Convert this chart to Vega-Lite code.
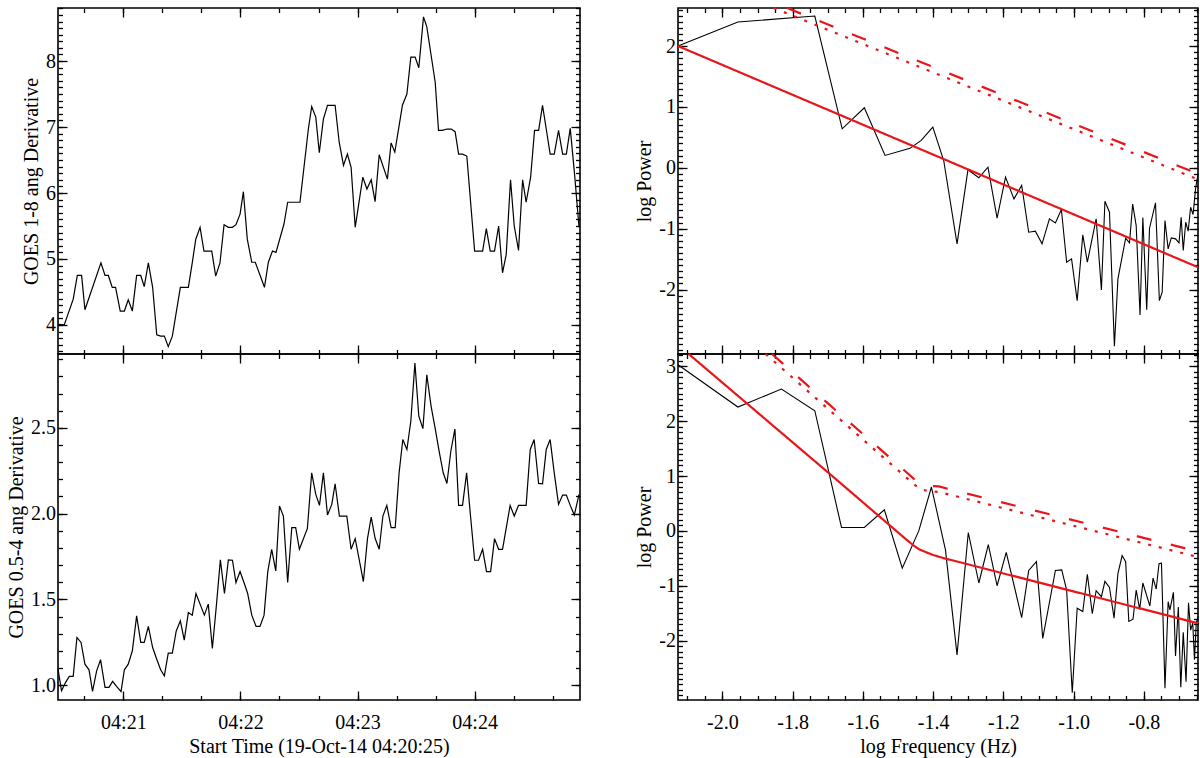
{
  "$schema": "https://vega.github.io/schema/vega-lite/v6.json",
  "background": "white",
  "padding": {"left": 5, "top": 2, "right": 3, "bottom": 2},
  "datasets": {
    "g18": [
      {"t": 26.5, "v": 4.01}, {"t": 29.7, "v": 4.0}, {"t": 34.3, "v": 4.39}, {"t": 36.4, "v": 4.75}, {"t": 38.6, "v": 4.75},
      {"t": 40.3, "v": 4.23}, {"t": 48.5, "v": 4.94}, {"t": 50.6, "v": 4.75}, {"t": 52.3, "v": 4.75}, {"t": 54.3, "v": 4.57},
      {"t": 56.0, "v": 4.57}, {"t": 58.4, "v": 4.21}, {"t": 60.5, "v": 4.21}, {"t": 62.5, "v": 4.38}, {"t": 64.6, "v": 4.21},
      {"t": 66.8, "v": 4.75}, {"t": 68.9, "v": 4.75}, {"t": 70.7, "v": 4.58}, {"t": 72.8, "v": 4.94}, {"t": 75.0, "v": 4.57},
      {"t": 77.1, "v": 3.85}, {"t": 79.1, "v": 3.83}, {"t": 81.0, "v": 3.83}, {"t": 83.0, "v": 3.67}, {"t": 85.1, "v": 3.83},
      {"t": 89.2, "v": 4.57}, {"t": 93.3, "v": 4.57}, {"t": 95.3, "v": 4.94}, {"t": 97.1, "v": 5.3}, {"t": 99.3, "v": 5.48},
      {"t": 101.3, "v": 5.12}, {"t": 105.3, "v": 5.12}, {"t": 107.3, "v": 4.74}, {"t": 109.5, "v": 4.94}, {"t": 111.6, "v": 5.52},
      {"t": 113.8, "v": 5.48}, {"t": 115.9, "v": 5.48}, {"t": 117.7, "v": 5.52}, {"t": 119.8, "v": 5.68}, {"t": 121.5, "v": 6.02},
      {"t": 123.5, "v": 5.3}, {"t": 125.8, "v": 4.95}, {"t": 127.6, "v": 4.95}, {"t": 132.3, "v": 4.57}, {"t": 134.3, "v": 4.95},
      {"t": 136.4, "v": 5.12}, {"t": 138.2, "v": 5.1}, {"t": 142.3, "v": 5.53}, {"t": 144.2, "v": 5.86}, {"t": 150.5, "v": 5.86},
      {"t": 154.8, "v": 6.97}, {"t": 156.5, "v": 7.31}, {"t": 158.6, "v": 7.15}, {"t": 160.4, "v": 6.61}, {"t": 162.5, "v": 7.12},
      {"t": 164.6, "v": 7.33}, {"t": 168.5, "v": 7.33}, {"t": 170.6, "v": 6.77}, {"t": 172.8, "v": 6.42}, {"t": 174.8, "v": 6.59},
      {"t": 176.7, "v": 6.39}, {"t": 178.8, "v": 5.48}, {"t": 182.7, "v": 6.24}, {"t": 184.8, "v": 6.06}, {"t": 187.0, "v": 6.2},
      {"t": 189.0, "v": 5.87}, {"t": 191.1, "v": 6.58}, {"t": 195.3, "v": 6.21}, {"t": 197.2, "v": 6.76}, {"t": 199.1, "v": 6.62},
      {"t": 203.0, "v": 7.33}, {"t": 205.3, "v": 7.5}, {"t": 207.3, "v": 8.06}, {"t": 209.5, "v": 8.06}, {"t": 211.4, "v": 7.9},
      {"t": 213.8, "v": 8.67}, {"t": 215.5, "v": 8.52}, {"t": 219.8, "v": 7.68}, {"t": 221.5, "v": 6.95}, {"t": 223.5, "v": 6.95},
      {"t": 225.8, "v": 6.97}, {"t": 228.0, "v": 6.97}, {"t": 230.0, "v": 6.93}, {"t": 231.8, "v": 6.59}, {"t": 233.8, "v": 6.59},
      {"t": 236.0, "v": 6.56}, {"t": 240.0, "v": 5.12}, {"t": 244.1, "v": 5.12}, {"t": 246.0, "v": 5.46}, {"t": 248.0, "v": 5.12},
      {"t": 250.2, "v": 5.12}, {"t": 252.3, "v": 5.5}, {"t": 254.3, "v": 4.79}, {"t": 256.2, "v": 5.07}, {"t": 258.4, "v": 6.2},
      {"t": 260.3, "v": 5.5}, {"t": 262.5, "v": 5.13}, {"t": 264.6, "v": 6.2}, {"t": 266.4, "v": 5.86}, {"t": 268.7, "v": 6.24},
      {"t": 270.7, "v": 6.95}, {"t": 272.8, "v": 6.95}, {"t": 274.8, "v": 7.33}, {"t": 276.7, "v": 6.97}, {"t": 278.7, "v": 6.59},
      {"t": 280.8, "v": 6.59}, {"t": 283.0, "v": 6.95}, {"t": 285.1, "v": 6.59}, {"t": 287.0, "v": 6.59}, {"t": 289.0, "v": 6.98},
      {"t": 291.2, "v": 6.29}, {"t": 293.5, "v": 5.48}
    ],
    "g054": [
      {"t": 26.5, "v": 1.093}, {"t": 28.3, "v": 0.967}, {"t": 30.4, "v": 1.016}, {"t": 32.3, "v": 1.051}, {"t": 34.3, "v": 1.051},
      {"t": 36.2, "v": 1.278}, {"t": 38.3, "v": 1.249}, {"t": 40.3, "v": 1.122}, {"t": 42.4, "v": 1.089}, {"t": 44.2, "v": 0.963},
      {"t": 46.3, "v": 1.083}, {"t": 48.3, "v": 1.148}, {"t": 50.6, "v": 0.987}, {"t": 52.6, "v": 0.987}, {"t": 54.5, "v": 1.022},
      {"t": 56.5, "v": 0.993}, {"t": 58.8, "v": 0.962}, {"t": 60.5, "v": 1.089}, {"t": 62.5, "v": 1.122}, {"t": 64.6, "v": 1.2},
      {"t": 66.8, "v": 1.404}, {"t": 68.9, "v": 1.249}, {"t": 70.7, "v": 1.249}, {"t": 72.8, "v": 1.342}, {"t": 75.0, "v": 1.219},
      {"t": 77.1, "v": 1.151}, {"t": 79.1, "v": 1.089}, {"t": 81.0, "v": 1.054}, {"t": 83.0, "v": 1.186}, {"t": 85.1, "v": 1.186},
      {"t": 87.1, "v": 1.316}, {"t": 89.2, "v": 1.375}, {"t": 91.2, "v": 1.262}, {"t": 93.3, "v": 1.423}, {"t": 95.3, "v": 1.408},
      {"t": 97.2, "v": 1.534}, {"t": 99.3, "v": 1.472}, {"t": 101.5, "v": 1.408}, {"t": 103.5, "v": 1.472}, {"t": 105.6, "v": 1.214},
      {"t": 107.8, "v": 1.481}, {"t": 109.7, "v": 1.73}, {"t": 111.8, "v": 1.534}, {"t": 113.8, "v": 1.73}, {"t": 115.9, "v": 1.728},
      {"t": 117.7, "v": 1.598}, {"t": 119.8, "v": 1.662}, {"t": 121.8, "v": 1.598}, {"t": 123.7, "v": 1.534}, {"t": 125.8, "v": 1.408},
      {"t": 128.0, "v": 1.342}, {"t": 130.0, "v": 1.342}, {"t": 132.1, "v": 1.408}, {"t": 134.0, "v": 1.662}, {"t": 136.0, "v": 1.792},
      {"t": 138.1, "v": 1.666}, {"t": 140.0, "v": 2.044}, {"t": 142.0, "v": 1.986}, {"t": 144.2, "v": 1.598}, {"t": 146.3, "v": 1.918},
      {"t": 148.3, "v": 1.918}, {"t": 150.2, "v": 1.792}, {"t": 154.3, "v": 1.914}, {"t": 156.5, "v": 2.238}, {"t": 158.6, "v": 2.112},
      {"t": 160.5, "v": 2.048}, {"t": 162.5, "v": 2.238}, {"t": 164.6, "v": 1.992}, {"t": 166.8, "v": 2.054}, {"t": 168.5, "v": 2.174},
      {"t": 170.7, "v": 1.986}, {"t": 174.5, "v": 1.986}, {"t": 176.7, "v": 1.792}, {"t": 178.8, "v": 1.854}, {"t": 183.0, "v": 1.604},
      {"t": 185.1, "v": 1.854}, {"t": 187.0, "v": 1.98}, {"t": 189.0, "v": 1.856}, {"t": 191.1, "v": 1.792}, {"t": 193.0, "v": 1.986},
      {"t": 195.0, "v": 2.048}, {"t": 197.2, "v": 1.918}, {"t": 199.3, "v": 1.918}, {"t": 201.3, "v": 2.238}, {"t": 203.2, "v": 2.432},
      {"t": 205.3, "v": 2.374}, {"t": 207.3, "v": 2.539}, {"t": 209.4, "v": 2.878}, {"t": 211.4, "v": 2.568}, {"t": 213.5, "v": 2.496},
      {"t": 215.5, "v": 2.81}, {"t": 217.7, "v": 2.626}, {"t": 219.8, "v": 2.496}, {"t": 221.8, "v": 2.364}, {"t": 223.9, "v": 2.238},
      {"t": 225.8, "v": 2.176}, {"t": 227.8, "v": 2.364}, {"t": 229.9, "v": 2.494}, {"t": 231.8, "v": 2.048}, {"t": 233.8, "v": 2.048},
      {"t": 235.9, "v": 2.238}, {"t": 237.9, "v": 1.986}, {"t": 240.0, "v": 1.728}, {"t": 242.0, "v": 1.728}, {"t": 244.1, "v": 1.792},
      {"t": 246.1, "v": 1.662}, {"t": 248.2, "v": 1.662}, {"t": 250.2, "v": 1.854}, {"t": 252.3, "v": 1.792}, {"t": 254.3, "v": 1.792},
      {"t": 258.2, "v": 2.048}, {"t": 260.3, "v": 1.986}, {"t": 262.5, "v": 2.048}, {"t": 266.4, "v": 2.048}, {"t": 268.5, "v": 2.374},
      {"t": 270.5, "v": 2.432}, {"t": 272.8, "v": 2.176}, {"t": 274.8, "v": 2.174}, {"t": 276.7, "v": 2.374}, {"t": 278.7, "v": 2.432},
      {"t": 280.8, "v": 2.238}, {"t": 283.0, "v": 2.054}, {"t": 285.1, "v": 2.108}, {"t": 287.0, "v": 2.108}, {"t": 289.0, "v": 2.048},
      {"t": 291.1, "v": 1.992}, {"t": 293.5, "v": 2.112}
    ],
    "p18": [
      {"f": -2.1265, "p": 2.0}, {"f": -1.956, "p": 2.395}, {"f": -1.737, "p": 2.493}, {"f": -1.659, "p": 0.641}, {"f": -1.596, "p": 0.986},
      {"f": -1.537, "p": 0.203}, {"f": -1.466, "p": 0.32}, {"f": -1.434, "p": 0.45}, {"f": -1.401, "p": 0.668}, {"f": -1.37, "p": 0.12},
      {"f": -1.332, "p": -1.249}, {"f": -1.301, "p": -0.033}, {"f": -1.27, "p": -0.164}, {"f": -1.244, "p": 0.011}, {"f": -1.218, "p": -0.827},
      {"f": -1.194, "p": -0.153}, {"f": -1.17, "p": -0.51}, {"f": -1.148, "p": -0.29}, {"f": -1.128, "p": -1.058}, {"f": -1.109, "p": -1.041},
      {"f": -1.09, "p": -1.249}, {"f": -1.069, "p": -0.838}, {"f": -1.052, "p": -0.904}, {"f": -1.035, "p": -0.685}, {"f": -1.02, "p": -1.551},
      {"f": -1.006, "p": -1.496}, {"f": -0.99, "p": -2.181}, {"f": -0.974, "p": -1.101}, {"f": -0.961, "p": -1.551}, {"f": -0.936, "p": -0.838},
      {"f": -0.921, "p": -2.005}, {"f": -0.911, "p": -0.548}, {"f": -0.898, "p": -0.729}, {"f": -0.884, "p": -2.932}, {"f": -0.874, "p": -1.825},
      {"f": -0.852, "p": -1.156}, {"f": -0.841, "p": -1.233}, {"f": -0.832, "p": -0.597}, {"f": -0.822, "p": -0.948}, {"f": -0.811, "p": -2.416},
      {"f": -0.803, "p": -0.816}, {"f": -0.792, "p": -2.329}, {"f": -0.784, "p": -0.992}, {"f": -0.767, "p": -0.575}, {"f": -0.756, "p": -2.181},
      {"f": -0.748, "p": -2.044}, {"f": -0.74, "p": -0.866}, {"f": -0.731, "p": -1.332}, {"f": -0.722, "p": -1.151}, {"f": -0.71, "p": -1.167},
      {"f": -0.7, "p": -1.233}, {"f": -0.694, "p": -0.811}, {"f": -0.688, "p": -1.359}, {"f": -0.681, "p": -0.893}, {"f": -0.674, "p": -1.041},
      {"f": -0.667, "p": -0.647}, {"f": -0.66, "p": -0.767}, {"f": -0.653, "p": -0.345}, {"f": -0.646, "p": -0.1}
    ],
    "p054": [
      {"f": -2.1265, "p": 3.03}, {"f": -1.956, "p": 2.258}, {"f": -1.832, "p": 2.586}, {"f": -1.737, "p": 2.191}, {"f": -1.661, "p": 0.062},
      {"f": -1.596, "p": 0.062}, {"f": -1.539, "p": 0.384}, {"f": -1.488, "p": -0.68}, {"f": -1.441, "p": 0.0}, {"f": -1.405, "p": 0.8},
      {"f": -1.365, "p": -0.346}, {"f": -1.332, "p": -2.26}, {"f": -1.3, "p": -0.03}, {"f": -1.27, "p": -0.95}, {"f": -1.243, "p": -0.25},
      {"f": -1.218, "p": -1.0}, {"f": -1.192, "p": -0.39}, {"f": -1.148, "p": -1.58}, {"f": -1.128, "p": -0.72}, {"f": -1.106, "p": -0.56},
      {"f": -1.088, "p": -1.96}, {"f": -1.052, "p": -0.72}, {"f": -1.034, "p": -0.71}, {"f": -1.02, "p": -1.08}, {"f": -1.004, "p": -2.95},
      {"f": -0.99, "p": -1.41}, {"f": -0.974, "p": -1.47}, {"f": -0.961, "p": -0.79}, {"f": -0.947, "p": -1.51}, {"f": -0.936, "p": -1.09},
      {"f": -0.921, "p": -1.2}, {"f": -0.911, "p": -0.92}, {"f": -0.898, "p": -1.03}, {"f": -0.885, "p": -1.59}, {"f": -0.874, "p": -0.78},
      {"f": -0.862, "p": -0.45}, {"f": -0.852, "p": -0.56}, {"f": -0.843, "p": -1.65}, {"f": -0.831, "p": -1.61}, {"f": -0.822, "p": -1.08},
      {"f": -0.812, "p": -1.43}, {"f": -0.803, "p": -0.95}, {"f": -0.783, "p": -1.37}, {"f": -0.774, "p": -0.86}, {"f": -0.765, "p": -1.06},
      {"f": -0.757, "p": -0.6}, {"f": -0.75, "p": -0.59}, {"f": -0.74, "p": -2.87}, {"f": -0.731, "p": -1.29}, {"f": -0.726, "p": -1.44},
      {"f": -0.716, "p": -1.12}, {"f": -0.71, "p": -2.28}, {"f": -0.702, "p": -1.39}, {"f": -0.695, "p": -2.85}, {"f": -0.688, "p": -1.85},
      {"f": -0.68, "p": -2.75}, {"f": -0.673, "p": -1.31}, {"f": -0.667, "p": -1.81}, {"f": -0.661, "p": -1.68}, {"f": -0.656, "p": -2.35},
      {"f": -0.651, "p": -1.68}, {"f": -0.646, "p": -1.56}
    ],
    "fit18": [
      {"f": -2.1265, "p": 2.0, "k": "fit"}, {"f": -0.646, "p": -1.633, "k": "fit"},
      {"f": -1.816, "p": 2.625, "k": "dash"}, {"f": -0.646, "p": -0.1, "k": "dash"},
      {"f": -1.854, "p": 2.625, "k": "dot"}, {"f": -0.646, "p": -0.19, "k": "dot"}
    ],
    "fit054": [
      {"f": -2.096, "p": 3.225, "k": "fit"}, {"f": -1.697, "p": 1.053, "k": "fit"}, {"f": -1.476, "p": -0.16, "k": "fit"},
      {"f": -1.455, "p": -0.27, "k": "fit"}, {"f": -1.44, "p": -0.335, "k": "fit"}, {"f": -1.42, "p": -0.39, "k": "fit"},
      {"f": -1.4, "p": -0.44, "k": "fit"}, {"f": -1.374, "p": -0.49, "k": "fit"}, {"f": -0.646, "p": -1.684, "k": "fit"},
      {"f": -1.859, "p": 3.225, "k": "dash"}, {"f": -1.697, "p": 2.31, "k": "dash"}, {"f": -1.476, "p": 1.07, "k": "dash"},
      {"f": -1.455, "p": 0.95, "k": "dash"}, {"f": -1.436, "p": 0.86, "k": "dash"}, {"f": -1.41, "p": 0.82, "k": "dash"},
      {"f": -1.384, "p": 0.81, "k": "dash"}, {"f": -0.646, "p": -0.376, "k": "dash"},
      {"f": -1.877, "p": 3.225, "k": "dot"}, {"f": -1.697, "p": 2.21, "k": "dot"}, {"f": -1.476, "p": 0.97, "k": "dot"},
      {"f": -1.455, "p": 0.85, "k": "dot"}, {"f": -1.436, "p": 0.76, "k": "dot"}, {"f": -1.41, "p": 0.72, "k": "dot"},
      {"f": -1.384, "p": 0.71, "k": "dot"}, {"f": -0.646, "p": -0.476, "k": "dot"}
    ]
  },
  "concat": [
    {
      "width": 522,
      "height": 346,
      "data": {"name": "g18"},
      "layer": [
        {
          "mark": {"type": "line", "color": "black", "strokeWidth": 1.2},
          "encoding": {
            "x": {"field": "t", "type": "quantitative", "scale": {"domain": [26.5, 294], "nice": false, "zero": false},
                  "axis": {"orient": "bottom", "values": [60, 120, 180, 240], "labels": false, "title": null}},
            "y": {"field": "v", "type": "quantitative", "scale": {"domain": [3.559, 8.805], "nice": false, "zero": false},
                  "axis": {"orient": "left", "values": [4, 5, 6, 7, 8], "labelExpr": "'' + datum.value", "title": "GOES 1-8 ang Derivative"}}
          }
        },
        {
          "mark": {"type": "line", "opacity": 0},
          "encoding": {
            "x": {"field": "t", "type": "quantitative", "scale": {"domain": [26.5, 294], "nice": false, "zero": false},
                  "axis": {"orient": "top", "values": [60, 120, 180, 240], "labels": false, "title": null}},
            "y": {"field": "v", "type": "quantitative", "scale": {"domain": [3.559, 8.805], "nice": false, "zero": false},
                  "axis": {"orient": "right", "values": [4, 5, 6, 7, 8], "labels": false, "title": null}}
          }
        },
        {
          "mark": {"type": "line", "opacity": 0},
          "encoding": {
            "x": {"field": "t", "type": "quantitative", "scale": {"domain": [26.5, 294], "nice": false, "zero": false},
                  "axis": {"orient": "bottom", "values": [40, 60, 80, 100, 120, 140, 160, 180, 200, 220, 240, 260, 280], "tickSize": -4.5, "labels": false, "title": null}},
            "y": {"field": "v", "type": "quantitative", "scale": {"domain": [3.559, 8.805], "nice": false, "zero": false},
                  "axis": {"orient": "left", "values": [3.6, 3.7, 3.8, 3.9, 4, 4.1, 4.2, 4.3, 4.4, 4.5, 4.6, 4.7, 4.8, 4.9, 5, 5.1, 5.2, 5.3, 5.4, 5.5, 5.6, 5.7, 5.8, 5.9, 6, 6.1, 6.2, 6.3, 6.4, 6.5, 6.6, 6.7, 6.8, 6.9, 7, 7.1, 7.2, 7.3, 7.4, 7.5, 7.6, 7.7, 7.8, 7.9, 8, 8.1, 8.2, 8.3, 8.4, 8.5, 8.6, 8.7, 8.8], "tickSize": -4.5, "labels": false, "title": null}}
          }
        },
        {
          "mark": {"type": "line", "opacity": 0},
          "encoding": {
            "x": {"field": "t", "type": "quantitative", "scale": {"domain": [26.5, 294], "nice": false, "zero": false},
                  "axis": {"orient": "top", "values": [40, 60, 80, 100, 120, 140, 160, 180, 200, 220, 240, 260, 280], "tickSize": -4.5, "labels": false, "title": null}},
            "y": {"field": "v", "type": "quantitative", "scale": {"domain": [3.559, 8.805], "nice": false, "zero": false},
                  "axis": {"orient": "right", "values": [3.6, 3.7, 3.8, 3.9, 4, 4.1, 4.2, 4.3, 4.4, 4.5, 4.6, 4.7, 4.8, 4.9, 5, 5.1, 5.2, 5.3, 5.4, 5.5, 5.6, 5.7, 5.8, 5.9, 6, 6.1, 6.2, 6.3, 6.4, 6.5, 6.6, 6.7, 6.8, 6.9, 7, 7.1, 7.2, 7.3, 7.4, 7.5, 7.6, 7.7, 7.8, 7.9, 8, 8.1, 8.2, 8.3, 8.4, 8.5, 8.6, 8.7, 8.8], "tickSize": -4.5, "labels": false, "title": null}}
          }
        }
      ],
      "resolve": {"axis": {"x": "independent", "y": "independent"}}
    },
    {
      "width": 520,
      "height": 346,
      "data": {"name": "p18"},
      "layer": [
        {
          "mark": {"type": "line", "color": "black", "strokeWidth": 1.1},
          "encoding": {
            "x": {"field": "f", "type": "quantitative", "scale": {"domain": [-2.1265, -0.646], "nice": false, "zero": false},
                  "axis": {"orient": "bottom", "values": [-2, -1.8, -1.6, -1.4, -1.2, -1, -0.8], "labels": false, "title": null}},
            "y": {"field": "p", "type": "quantitative", "scale": {"domain": [-3.058, 2.625], "nice": false, "zero": false},
                  "axis": {"orient": "left", "values": [-2, -1, 0, 1, 2], "labelExpr": "'' + datum.value", "title": "log Power"}}
          }
        },
        {
          "data": {"name": "fit18"},
          "mark": {"type": "line", "color": "#e8161b", "strokeWidth": 2.2},
          "encoding": {
            "x": {"field": "f", "type": "quantitative", "scale": {"domain": [-2.1265, -0.646], "nice": false, "zero": false}, "axis": null},
            "y": {"field": "p", "type": "quantitative", "scale": {"domain": [-3.058, 2.625], "nice": false, "zero": false}, "axis": null},
            "strokeDash": {"field": "k", "type": "nominal", "scale": {"domain": ["fit", "dash", "dot"], "range": [[1, 0], [15, 20], [3, 8]]}, "legend": null}
          }
        },
        {
          "mark": {"type": "line", "opacity": 0},
          "encoding": {
            "x": {"field": "f", "type": "quantitative", "scale": {"domain": [-2.1265, -0.646], "nice": false, "zero": false},
                  "axis": {"orient": "top", "values": [-2, -1.8, -1.6, -1.4, -1.2, -1, -0.8], "labels": false, "title": null}},
            "y": {"field": "p", "type": "quantitative", "scale": {"domain": [-3.058, 2.625], "nice": false, "zero": false},
                  "axis": {"orient": "right", "values": [-2, -1, 0, 1, 2], "labels": false, "title": null}}
          }
        },
        {
          "mark": {"type": "line", "opacity": 0},
          "encoding": {
            "x": {"field": "f", "type": "quantitative", "scale": {"domain": [-2.1265, -0.646], "nice": false, "zero": false},
                  "axis": {"orient": "bottom", "values": [-2.1, -2.05, -2, -1.95, -1.9, -1.85, -1.8, -1.75, -1.7, -1.65, -1.6, -1.55, -1.5, -1.45, -1.4, -1.35, -1.3, -1.25, -1.2, -1.15, -1.1, -1.05, -1, -0.95, -0.9, -0.85, -0.8, -0.75, -0.7, -0.65], "tickSize": -4.5, "labels": false, "title": null}},
            "y": {"field": "p", "type": "quantitative", "scale": {"domain": [-3.058, 2.625], "nice": false, "zero": false},
                  "axis": {"orient": "left", "values": [-3, -2.9, -2.8, -2.7, -2.6, -2.5, -2.4, -2.3, -2.2, -2.1, -2, -1.9, -1.8, -1.7, -1.6, -1.5, -1.4, -1.3, -1.2, -1.1, -1, -0.9, -0.8, -0.7, -0.6, -0.5, -0.4, -0.3, -0.2, -0.1, 0, 0.1, 0.2, 0.3, 0.4, 0.5, 0.6, 0.7, 0.8, 0.9, 1, 1.1, 1.2, 1.3, 1.4, 1.5, 1.6, 1.7, 1.8, 1.9, 2, 2.1, 2.2, 2.3, 2.4, 2.5, 2.6], "tickSize": -4.5, "labels": false, "title": null}}
          }
        },
        {
          "mark": {"type": "line", "opacity": 0},
          "encoding": {
            "x": {"field": "f", "type": "quantitative", "scale": {"domain": [-2.1265, -0.646], "nice": false, "zero": false},
                  "axis": {"orient": "top", "values": [-2.1, -2.05, -2, -1.95, -1.9, -1.85, -1.8, -1.75, -1.7, -1.65, -1.6, -1.55, -1.5, -1.45, -1.4, -1.35, -1.3, -1.25, -1.2, -1.15, -1.1, -1.05, -1, -0.95, -0.9, -0.85, -0.8, -0.75, -0.7, -0.65], "tickSize": -4.5, "labels": false, "title": null}},
            "y": {"field": "p", "type": "quantitative", "scale": {"domain": [-3.058, 2.625], "nice": false, "zero": false},
                  "axis": {"orient": "right", "values": [-3, -2.9, -2.8, -2.7, -2.6, -2.5, -2.4, -2.3, -2.2, -2.1, -2, -1.9, -1.8, -1.7, -1.6, -1.5, -1.4, -1.3, -1.2, -1.1, -1, -0.9, -0.8, -0.7, -0.6, -0.5, -0.4, -0.3, -0.2, -0.1, 0, 0.1, 0.2, 0.3, 0.4, 0.5, 0.6, 0.7, 0.8, 0.9, 1, 1.1, 1.2, 1.3, 1.4, 1.5, 1.6, 1.7, 1.8, 1.9, 2, 2.1, 2.2, 2.3, 2.4, 2.5, 2.6], "tickSize": -4.5, "labels": false, "title": null}}
          }
        }
      ],
      "resolve": {"axis": {"x": "independent", "y": "independent"}}
    },
    {
      "width": 522,
      "height": 346,
      "data": {"name": "g054"},
      "layer": [
        {
          "mark": {"type": "line", "color": "black", "strokeWidth": 1.2},
          "encoding": {
            "x": {"field": "t", "type": "quantitative", "scale": {"domain": [26.5, 294], "nice": false, "zero": false},
                  "axis": {"orient": "bottom", "values": [60, 120, 180, 240], "labelExpr": "'04:' + (20 + datum.value / 60)", "title": "Start Time (19-Oct-14 04:20:25)"}},
            "y": {"field": "v", "type": "quantitative", "scale": {"domain": [0.913, 2.931], "nice": false, "zero": false},
                  "axis": {"orient": "left", "values": [1, 1.5, 2, 2.5], "labelExpr": "format(datum.value, '.1f')", "title": "GOES 0.5-4 ang Derivative"}}
          }
        },
        {
          "mark": {"type": "line", "opacity": 0},
          "encoding": {
            "x": {"field": "t", "type": "quantitative", "scale": {"domain": [26.5, 294], "nice": false, "zero": false},
                  "axis": {"orient": "top", "values": [60, 120, 180, 240], "labels": false, "title": null}},
            "y": {"field": "v", "type": "quantitative", "scale": {"domain": [0.913, 2.931], "nice": false, "zero": false},
                  "axis": {"orient": "right", "values": [1, 1.5, 2, 2.5], "labels": false, "title": null}}
          }
        },
        {
          "mark": {"type": "line", "opacity": 0},
          "encoding": {
            "x": {"field": "t", "type": "quantitative", "scale": {"domain": [26.5, 294], "nice": false, "zero": false},
                  "axis": {"orient": "bottom", "values": [40, 60, 80, 100, 120, 140, 160, 180, 200, 220, 240, 260, 280], "tickSize": -4.5, "labels": false, "title": null}},
            "y": {"field": "v", "type": "quantitative", "scale": {"domain": [0.913, 2.931], "nice": false, "zero": false},
                  "axis": {"orient": "left", "values": [1, 1.1, 1.2, 1.3, 1.4, 1.5, 1.6, 1.7, 1.8, 1.9, 2, 2.1, 2.2, 2.3, 2.4, 2.5, 2.6, 2.7, 2.8, 2.9], "tickSize": -4.5, "labels": false, "title": null}}
          }
        },
        {
          "mark": {"type": "line", "opacity": 0},
          "encoding": {
            "x": {"field": "t", "type": "quantitative", "scale": {"domain": [26.5, 294], "nice": false, "zero": false},
                  "axis": {"orient": "top", "values": [40, 60, 80, 100, 120, 140, 160, 180, 200, 220, 240, 260, 280], "tickSize": -4.5, "labels": false, "title": null}},
            "y": {"field": "v", "type": "quantitative", "scale": {"domain": [0.913, 2.931], "nice": false, "zero": false},
                  "axis": {"orient": "right", "values": [1, 1.1, 1.2, 1.3, 1.4, 1.5, 1.6, 1.7, 1.8, 1.9, 2, 2.1, 2.2, 2.3, 2.4, 2.5, 2.6, 2.7, 2.8, 2.9], "tickSize": -4.5, "labels": false, "title": null}}
          }
        }
      ],
      "resolve": {"axis": {"x": "independent", "y": "independent"}}
    },
    {
      "width": 520,
      "height": 346,
      "data": {"name": "p054"},
      "layer": [
        {
          "mark": {"type": "line", "color": "black", "strokeWidth": 1.1},
          "encoding": {
            "x": {"field": "f", "type": "quantitative", "scale": {"domain": [-2.1265, -0.646], "nice": false, "zero": false},
                  "axis": {"orient": "bottom", "values": [-2, -1.8, -1.6, -1.4, -1.2, -1, -0.8], "labelExpr": "replace(format(datum.value, '.1f'), '−', '-')", "title": "log Frequency (Hz)"}},
            "y": {"field": "p", "type": "quantitative", "scale": {"domain": [-3.083, 3.225], "nice": false, "zero": false},
                  "axis": {"orient": "left", "values": [-2, -1, 0, 1, 2, 3], "labelExpr": "'' + datum.value", "title": "log Power"}}
          }
        },
        {
          "data": {"name": "fit054"},
          "mark": {"type": "line", "color": "#e8161b", "strokeWidth": 2.2},
          "encoding": {
            "x": {"field": "f", "type": "quantitative", "scale": {"domain": [-2.1265, -0.646], "nice": false, "zero": false}, "axis": null},
            "y": {"field": "p", "type": "quantitative", "scale": {"domain": [-3.083, 3.225], "nice": false, "zero": false}, "axis": null},
            "strokeDash": {"field": "k", "type": "nominal", "scale": {"domain": ["fit", "dash", "dot"], "range": [[1, 0], [15, 20], [3, 8]]}, "legend": null}
          }
        },
        {
          "mark": {"type": "line", "opacity": 0},
          "encoding": {
            "x": {"field": "f", "type": "quantitative", "scale": {"domain": [-2.1265, -0.646], "nice": false, "zero": false},
                  "axis": {"orient": "top", "values": [-2, -1.8, -1.6, -1.4, -1.2, -1, -0.8], "labels": false, "title": null}},
            "y": {"field": "p", "type": "quantitative", "scale": {"domain": [-3.083, 3.225], "nice": false, "zero": false},
                  "axis": {"orient": "right", "values": [-2, -1, 0, 1, 2, 3], "labels": false, "title": null}}
          }
        },
        {
          "mark": {"type": "line", "opacity": 0},
          "encoding": {
            "x": {"field": "f", "type": "quantitative", "scale": {"domain": [-2.1265, -0.646], "nice": false, "zero": false},
                  "axis": {"orient": "bottom", "values": [-2.1, -2.05, -2, -1.95, -1.9, -1.85, -1.8, -1.75, -1.7, -1.65, -1.6, -1.55, -1.5, -1.45, -1.4, -1.35, -1.3, -1.25, -1.2, -1.15, -1.1, -1.05, -1, -0.95, -0.9, -0.85, -0.8, -0.75, -0.7, -0.65], "tickSize": -4.5, "labels": false, "title": null}},
            "y": {"field": "p", "type": "quantitative", "scale": {"domain": [-3.083, 3.225], "nice": false, "zero": false},
                  "axis": {"orient": "left", "values": [-3, -2.9, -2.8, -2.7, -2.6, -2.5, -2.4, -2.3, -2.2, -2.1, -2, -1.9, -1.8, -1.7, -1.6, -1.5, -1.4, -1.3, -1.2, -1.1, -1, -0.9, -0.8, -0.7, -0.6, -0.5, -0.4, -0.3, -0.2, -0.1, 0, 0.1, 0.2, 0.3, 0.4, 0.5, 0.6, 0.7, 0.8, 0.9, 1, 1.1, 1.2, 1.3, 1.4, 1.5, 1.6, 1.7, 1.8, 1.9, 2, 2.1, 2.2, 2.3, 2.4, 2.5, 2.6, 2.7, 2.8, 2.9, 3, 3.1, 3.2], "tickSize": -4.5, "labels": false, "title": null}}
          }
        },
        {
          "mark": {"type": "line", "opacity": 0},
          "encoding": {
            "x": {"field": "f", "type": "quantitative", "scale": {"domain": [-2.1265, -0.646], "nice": false, "zero": false},
                  "axis": {"orient": "top", "values": [-2.1, -2.05, -2, -1.95, -1.9, -1.85, -1.8, -1.75, -1.7, -1.65, -1.6, -1.55, -1.5, -1.45, -1.4, -1.35, -1.3, -1.25, -1.2, -1.15, -1.1, -1.05, -1, -0.95, -0.9, -0.85, -0.8, -0.75, -0.7, -0.65], "tickSize": -4.5, "labels": false, "title": null}},
            "y": {"field": "p", "type": "quantitative", "scale": {"domain": [-3.083, 3.225], "nice": false, "zero": false},
                  "axis": {"orient": "right", "values": [-3, -2.9, -2.8, -2.7, -2.6, -2.5, -2.4, -2.3, -2.2, -2.1, -2, -1.9, -1.8, -1.7, -1.6, -1.5, -1.4, -1.3, -1.2, -1.1, -1, -0.9, -0.8, -0.7, -0.6, -0.5, -0.4, -0.3, -0.2, -0.1, 0, 0.1, 0.2, 0.3, 0.4, 0.5, 0.6, 0.7, 0.8, 0.9, 1, 1.1, 1.2, 1.3, 1.4, 1.5, 1.6, 1.7, 1.8, 1.9, 2, 2.1, 2.2, 2.3, 2.4, 2.5, 2.6, 2.7, 2.8, 2.9, 3, 3.1, 3.2], "tickSize": -4.5, "labels": false, "title": null}}
          }
        }
      ],
      "resolve": {"axis": {"x": "independent", "y": "independent"}}
    }
  ],
  "columns": 2,
  "spacing": {"row": 0, "column": 98},
  "bounds": "flush",
  "config": {
    "view": {"stroke": "black", "strokeWidth": 1.6},
    "axis": {
      "domain": false,
      "grid": false,
      "ticks": true,
      "tickColor": "black",
      "tickWidth": 1.3,
      "tickSize": -9,
      "labelFont": "Liberation Serif",
      "labelFontSize": 20,
      "labelColor": "black",
      "labelFlush": false,
      "labelOverlap": false,
      "titleFont": "Liberation Serif",
      "titleFontSize": 20,
      "titleFontWeight": "normal",
      "titleColor": "black",
      "titlePadding": 4
    },
    "axisX": {"labelPadding": 21.5},
    "axisY": {"labelPadding": 11.5}
  }
}
